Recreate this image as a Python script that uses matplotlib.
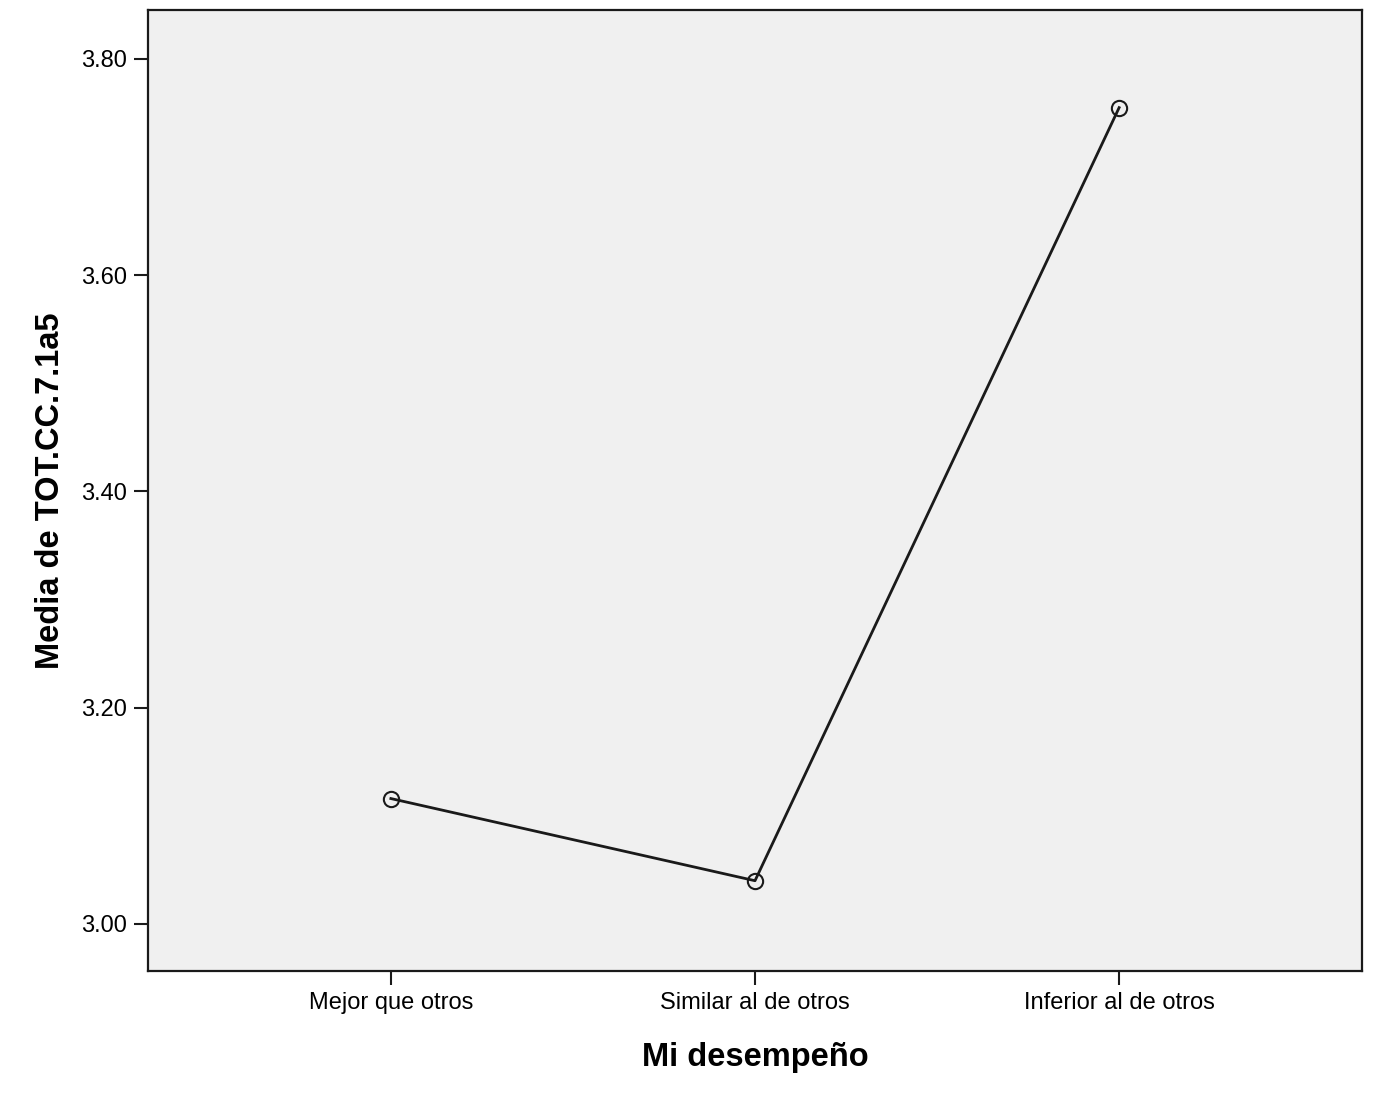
import matplotlib
matplotlib.use("Agg")
import matplotlib.pyplot as plt

categories = ["Mejor que otros", "Similar al de otros", "Inferior al de otros"]
means = [3.116, 3.040, 3.755]
yticks = [3.00, 3.20, 3.40, 3.60, 3.80]
ytick_labels = ["3.00", "3.20", "3.40", "3.60", "3.80"]

plt.rcParams['font.family'] = ['Liberation Sans', 'DejaVu Sans']

fig = plt.figure(figsize=(13.79, 11.04), dpi=100)
ax = fig.add_axes([148/1379, 1 - 971/1104, (1362-148)/1379, (971-10)/1104])
ax.set_facecolor("#F0F0F0")

x = list(range(len(categories)))
ax.plot(x, means, color="#1a1a1a", linewidth=2.0, marker="o", markersize=11,
        markerfacecolor="none", markeredgecolor="#1a1a1a", markeredgewidth=1.5)

ax.set_xlim(-0.667, 2.667)
ax.set_ylim(2.9565, 3.8453)
ax.set_xticks(x)
ax.set_xticklabels(categories, fontsize=17)
ax.set_yticks(yticks)
ax.set_yticklabels(ytick_labels, fontsize=17)
ax.tick_params(axis="both", direction="out", length=10, width=1.5, color="#1a1a1a", pad=5)

for s in ax.spines.values():
    s.set_linewidth(1.6)
    s.set_color("#1a1a1a")

ax.set_xlabel("Mi desempeño", fontsize=23.5, fontweight="bold", labelpad=20)
ax.set_ylabel("Media de TOT.CC.7.1a5", fontsize=23.5, fontweight="bold", labelpad=11)

fig.savefig("out.png", dpi=100)
